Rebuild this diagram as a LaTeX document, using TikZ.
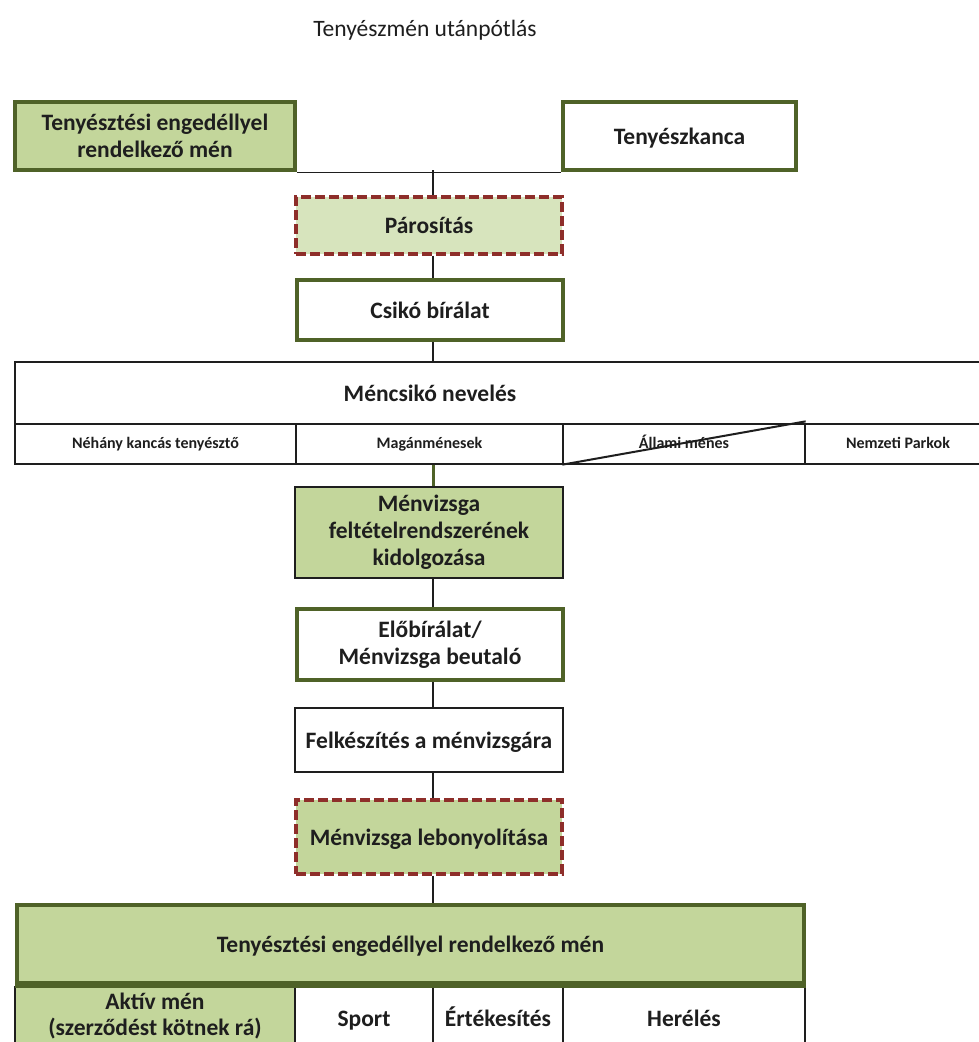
\documentclass[tikz,border=0pt]{standalone}
\usepackage{fontspec}
\setmainfont{Carlito}
\usetikzlibrary{calc}
\definecolor{olivedark}{HTML}{4F6228}
\definecolor{olivefill}{HTML}{C3D69B}
\definecolor{lightfill}{HTML}{D7E4BD}
\definecolor{darkred}{HTML}{8E2E2A}
\definecolor{ink}{HTML}{1E1E1E}
\tikzset{
  base/.style={rectangle, inner sep=0pt, align=center, text=ink,
    font=\fontsize{23.5}{27}\selectfont\bfseries},
  single/.style={text height=19pt, text depth=3pt},
  greenbox/.style={base, draw=olivedark, line width=4.5pt, fill=olivefill},
  whitebox/.style={base, draw=olivedark, line width=4.5pt, fill=white},
  dashbox/.style={base, draw=darkred, line width=3.2pt, dash pattern=on 10pt off 4pt, fill=lightfill},
  dashgreen/.style={base, draw=darkred, line width=3.2pt, dash pattern=on 10pt off 4pt, fill=olivefill},
  thinbox/.style={base, draw=ink, line width=1.5pt},
  cell/.style={base, draw=ink, line width=1.3pt},
  smallcell/.style={cell, font=\fontsize{16}{18}\selectfont\bfseries, text height=12pt, text depth=3pt},
  conn/.style={draw=ink, line width=1.3pt},
  thickconn/.style={draw=olivedark, line width=3pt},
  sz/.style 2 args={minimum width=#1pt, minimum height=#2pt},
}
\begin{document}
\begin{tikzpicture}[x=1pt, y=-1pt]
\useasboundingbox[fill=white] (0,0) rectangle (979,1042);

% title
\node (title) [base, font=\fontsize{23.5}{27}\selectfont] at (425,30) {Tenyészmén utánpótlás};

% top row
\node (men) [greenbox, sz={280}{68}] at (155,136) {Tenyésztési engedéllyel\\rendelkező mén};
\node (kanca) [whitebox, single, sz={233}{68}] at (679.5,136) {Tenyészkanca};

\node (par) [dashbox, single, sz={266}{57}] at (429,225.5) {Párosítás};
\node (csiko) [whitebox, single, sz={266}{60}] at (430,310) {Csikó bírálat};

% table
\node (mc) [cell, sz={976}{62}] at (503,393) {};
\node (mclab) [base, single] at (430,393) {Méncsikó nevelés};
\node (c1) [smallcell, sz={281}{40}] at (155.5,444) {Néhány kancás tenyésztő};
\node (c2) [smallcell, sz={267}{40}] at (429.5,444) {Magánménesek};
\node (c3) [smallcell, sz={242}{40}] at (684,444) {Állami ménes};
\node (c4) [smallcell, sz={186}{40}] at (898,444) {Nemzeti Parkok};
\draw[draw=ink, line width=2pt] (c3.south west) -- ($(c3.north east)+(0,-2)$);

\node (fel) [thinbox, fill=olivefill, sz={268}{91}] at (429,532.5) {Ménvizsga\\feltételrendszerének\\kidolgozása};
\node (elo) [whitebox, sz={266}{71}] at (430,644.5) {Előbírálat/\\Ménvizsga beutaló};
\node (felk) [thinbox, single, fill=white, sz={268}{64}] at (429,740) {Felkészítés a ménvizsgára};
\node (lebo) [dashgreen, single, sz={266}{74}] at (429,837) {Ménvizsga lebonyolítása};

% bottom
\node (big) [greenbox, single, sz={787}{78}] at (410.5,944) {Tenyésztési engedéllyel rendelkező mén};
\node (a1) [cell, fill=olivefill, sz={280}{63}] at (155,1018.5) {};
\node (a1lab) [base, font=\fontsize{23.5}{26.5}\selectfont\bfseries] at (155,1016) {Aktív mén\\(szerződést kötnek rá)};
\node (a2) [cell, single, sz={138}{63}] at (364,1018.5) {Sport};
\node (a3) [cell, single, sz={130}{63}] at (498,1018.5) {Értékesítés};
\node (a4) [cell, single, sz={242}{63}] at (684,1018.5) {Herélés};
\draw[draw=olivedark, line width=4.5pt] (big.south west) -- (big.south east);

% connectors
\coordinate (sx) at (433,0);
\coordinate (j) at (433,170);
\draw[conn] (men.south east) -- (kanca.south west);
\draw[conn] (j) -- (sx |- par.north);
\draw[conn] (sx |- par.south) -- (sx |- csiko.north);
\draw[conn] (sx |- csiko.south) -- (sx |- mc.north);
\draw[thickconn] (sx |- c2.south) -- (sx |- fel.north);
\draw[conn] (sx |- fel.south) -- (sx |- elo.north);
\draw[conn] (sx |- elo.south) -- (sx |- felk.north);
\draw[conn] (sx |- felk.south) -- (sx |- lebo.north);
\draw[conn] (sx |- lebo.south) -- (sx |- big.north);
\end{tikzpicture}
\end{document}
